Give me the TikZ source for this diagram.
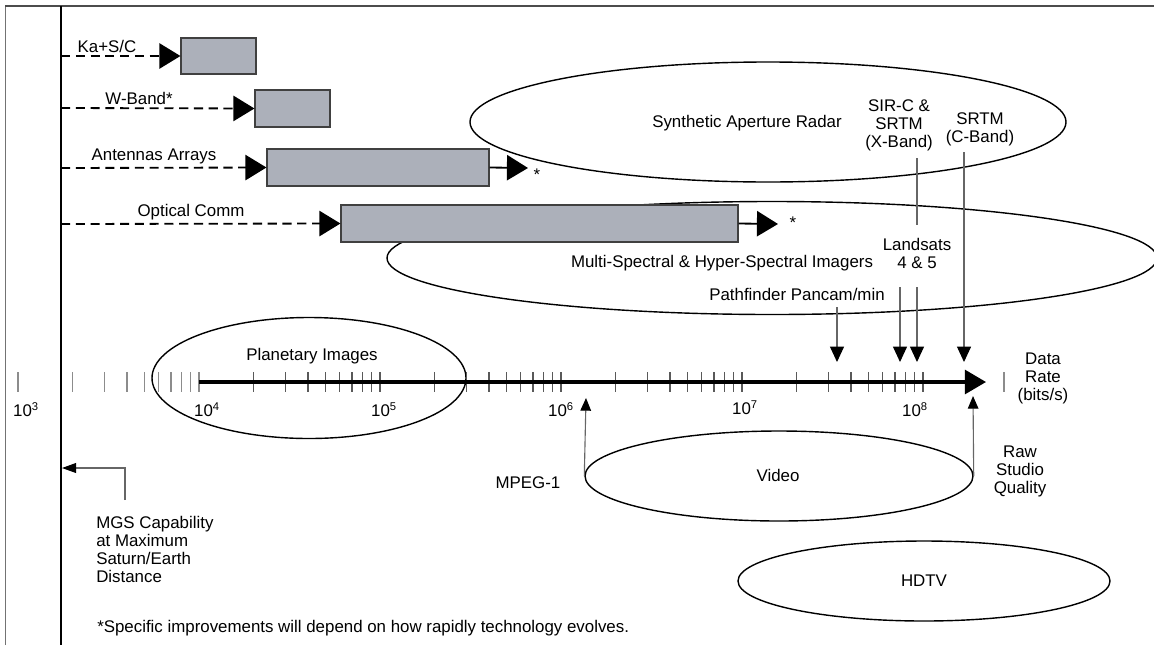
\documentclass[tikz,border=0pt]{standalone}
\usepackage{fontspec}
\setmainfont{Liberation Sans}
\usetikzlibrary{arrows.meta,shapes.geometric,fit}

\newlength\px
\setlength\px{0.025cm}
\definecolor{barfill}{RGB}{172,176,186}

\tikzset{
  bar/.style={draw=black!75, fill=barfill, inner sep=0pt, line width=0.8pt},
  lead/.style={line width=1.3pt, dash pattern=on 6.5pt off 4pt,
    -{Triangle[length=15pt,width=18pt]}},
  extend/.style={line width=1.3pt, -{Triangle[length=15pt,width=18pt]}},
  oval/.style={ellipse, draw, line width=1pt, inner sep=0pt},
  lbl/.style={inner sep=0pt, align=center},
  tick/.style={black!65, line width=0.8pt},
  faint/.style={black!45, line width=0.8pt},
  pin/.style={black!60, line width=0.8pt, -{Triangle[length=11pt,width=10pt,color=black]}},
  upin/.style={black!60, line width=0.8pt, -{Triangle[length=9pt,width=7.5pt,color=black]}},
}

\begin{document}
\begin{tikzpicture}[x=0.025cm, y=-0.025cm, font=\fontsize{12}{12.8}\selectfont]
  \useasboundingbox (0,0) rectangle (1154,645);

  % frame
  \draw[black!55, line width=0.6pt] (5,645) -- (5,6);
  \draw[black!70, line width=1.2pt] (5,6) -- (1154,6);
  \draw[line width=1.8pt] (61,6) -- (61,645);

  % application areas
  \node[oval, minimum width=596*\px, minimum height=120*\px] (sar) at (768,122) {};
  \node[oval, minimum width=770*\px, minimum height=113*\px] (msi) at (772,258) {};
  \node[oval, minimum width=314*\px, minimum height=121*\px] (planet) at (309,378) {};
  \node[oval, minimum width=388*\px, minimum height=90*\px] (video) at (779,476) {};
  \node[oval, minimum width=372*\px, minimum height=80*\px] (hdtv) at (924,581) {};

  \node[lbl] (sar-t) at (747,123) {Synthetic Aperture Radar};
  \node[lbl] (msi-t) at (722,263) {Multi-Spectral \& Hyper-Spectral Imagers};
  \node[lbl] (planet-t) at (312,356) {Planetary Images};
  \node[lbl] (video-t) at (778,475) {Video};
  \node[lbl] (hdtv-t) at (924,581) {HDTV};

  % link technologies
  \coordinate (ka-0) at (61,56);
  \coordinate (wb-0) at (61,108);
  \coordinate (aa-0) at (61,168);
  \coordinate (oc-0) at (61,224);
  \node[bar, fit={(181,38) (256,74)}] (ka) {};
  \node[bar, fit={(255,90) (330,127)}] (wb) {};
  \node[bar, fit={(267,149) (489,186)}] (aa) {};
  \node[bar, fit={(341,205) (738,242)}] (oc) {};
  \draw[lead] (ka-0) -- (ka.west);
  \draw[lead] (wb-0) -- (wb.west);
  \draw[lead] (aa-0) -- (aa.west);
  \draw[lead] (oc-0) -- (oc.west);
  \coordinate (aa-1) at (528,168);
  \coordinate (oc-1) at (778,224);
  \draw[extend] (aa.east) -- (aa-1);
  \draw[extend] (oc.east) -- (oc-1);
  \node[lbl] (aa-star) at (537,175) {*};
  \node[lbl] (oc-star) at (793,223) {*};

  \node[lbl] (ka-t) at (107,46) {Ka+S/C};
  \node[lbl] (wb-t) at (139,98) {W-Band*};
  \node[lbl] (aa-t) at (154,156) {Antennas Arrays};
  \node[lbl] (oc-t) at (191,212) {Optical Comm};

  % data rate axis
  \foreach \m in {2,...,10}
    \draw[faint] ({18+181*log10(\m)},372) -- ++(0,20);
  \foreach \d in {4,...,7}
    \foreach \m in {2,...,10}
      \draw[tick] ({18+181*(\d-3+log10(\m))},372) -- ++(0,20);
  \draw[faint] (18,372) -- ++(0,20);
  \draw[faint] (1004,372) -- ++(0,20);
  \coordinate (axis-0) at (199,382);
  \coordinate (axis-1) at (986,382);
  \draw[line width=2.2pt, -{Triangle[length=15pt,width=17pt]}] (axis-0) -- (axis-1);

  \node[lbl] (e3) at (26,410) {10\textsuperscript{3}};
  \node[lbl] (e4) at (207,410) {10\textsuperscript{4}};
  \node[lbl] (e5) at (384,410) {10\textsuperscript{5}};
  \node[lbl] (e6) at (561,410) {10\textsuperscript{6}};
  \node[lbl] (e7) at (745,408) {10\textsuperscript{7}};
  \node[lbl] (e8) at (915,410) {10\textsuperscript{8}};
  \node[lbl] (rate) at (1043,378) {Data\\Rate\\(bits/s)};

  % instrument pointers
  \node[lbl] (sirc) at (899,125) {SIR-C \&\\SRTM\\(X-Band)};
  \node[lbl] (srtm) at (980,129) {SRTM\\(C-Band)};
  \node[lbl] (land) at (917,253) {Landsats\\4 \& 5};
  \node[lbl] (pf) at (797,294) {Pathfinder Pancam/min};
  \coordinate (sirc-1) at (917,225);
  \coordinate (srtm-0) at (964,152);
  \coordinate (srtm-1) at (964,362);
  \coordinate (land-a0) at (900,287);
  \coordinate (land-a1) at (900,362);
  \coordinate (land-b0) at (917,287);
  \coordinate (land-b1) at (917,362);
  \coordinate (pf-0) at (837,307);
  \coordinate (pf-1) at (837,362);
  \draw[black!60, line width=0.8pt] (917,158) -- (sirc-1);
  \draw[pin] (srtm-0) -- (srtm-1);
  \draw[pin] (land-a0) -- (land-a1);
  \draw[pin] (land-b0) -- (land-b1);
  \draw[pin] (pf-0) -- (pf-1);

  % video
  \coordinate (mpeg-1) at (586,398);
  \coordinate (raw-1) at (973,396);
  \draw[upin] (video.west) -- (mpeg-1);
  \draw[upin] (video.east) -- (raw-1);
  \node[lbl] (mpeg) at (528,483) {MPEG-1};
  \node[lbl] (raw) at (1020,471) {Raw\\Studio\\Quality};

  % MGS
  \coordinate (mgs-0) at (125,500);
  \coordinate (mgs-1) at (62,468);
  \draw[black!60, line width=0.8pt, -{Triangle[length=10pt,width=7pt,color=black]}]
    (mgs-0) |- (mgs-1);
  \node[lbl, align=left, anchor=west] (mgs) at (96,549)
    {MGS Capability\\at Maximum\\Saturn/Earth\\Distance};
  \node[lbl, anchor=west] (note) at (97,628)
    {*Specific improvements will depend on how rapidly technology evolves.};
\end{tikzpicture}
\end{document}
